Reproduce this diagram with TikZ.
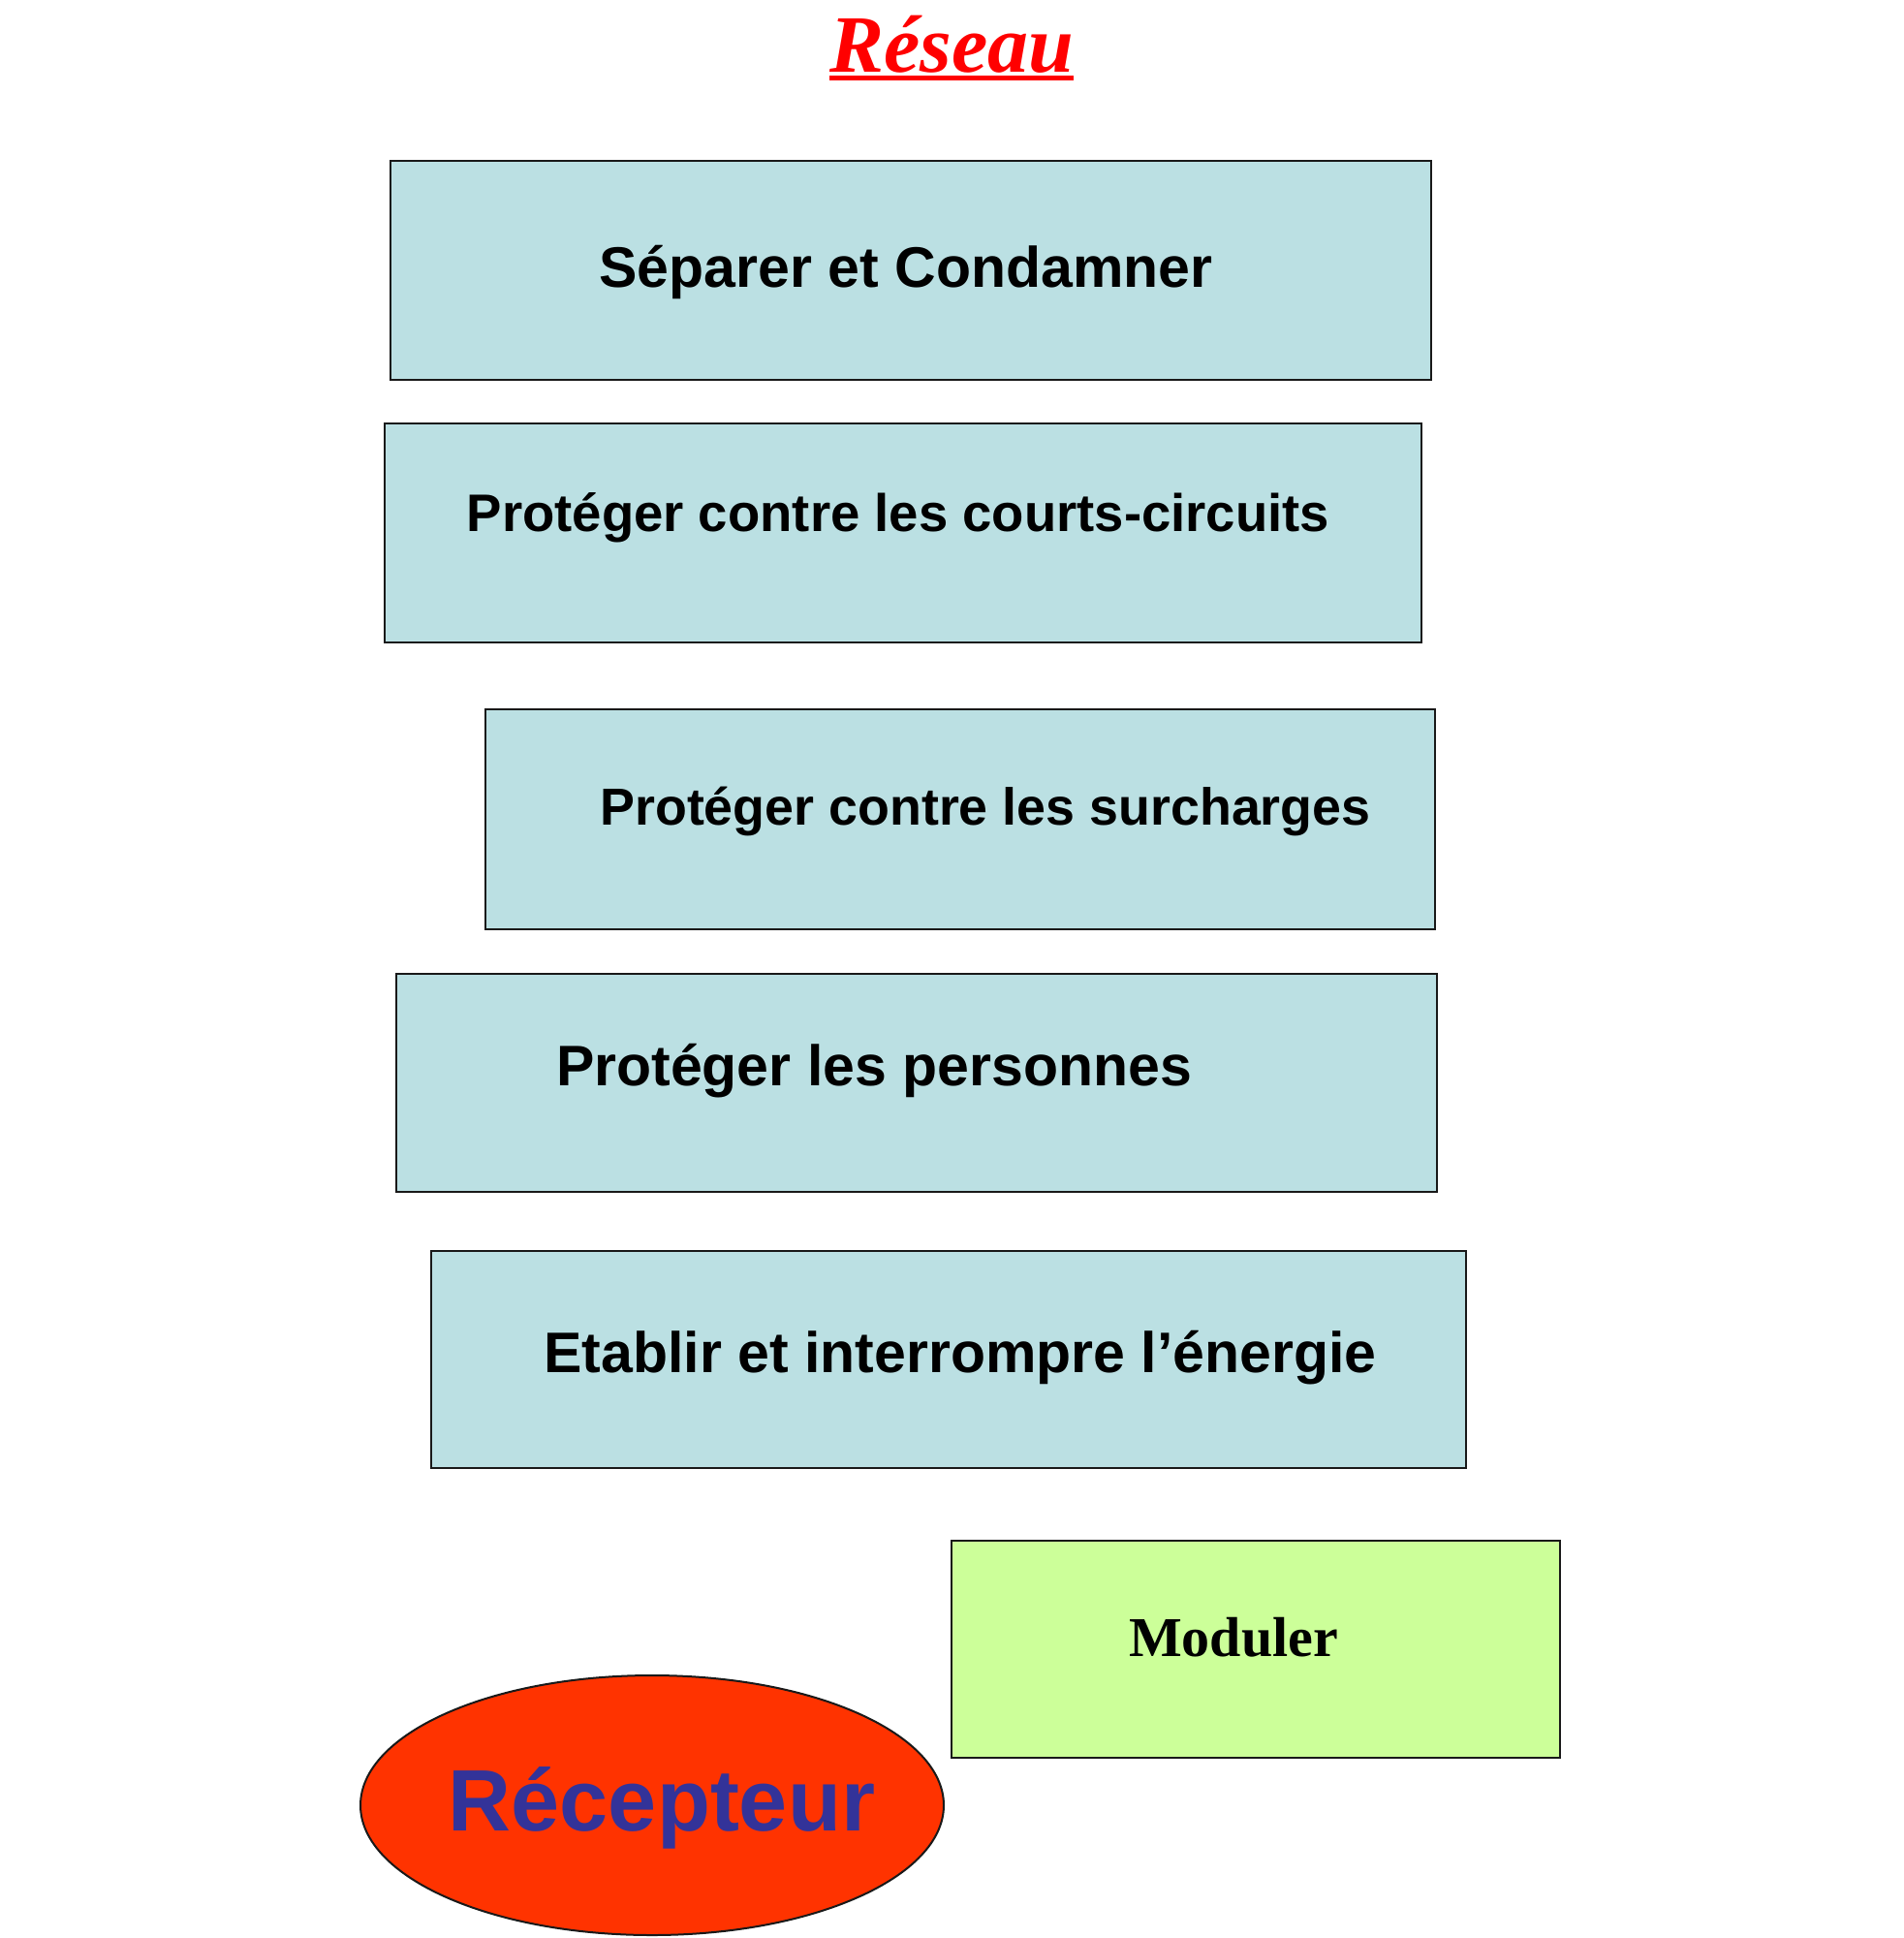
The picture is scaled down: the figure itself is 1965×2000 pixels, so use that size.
\documentclass[tikz,border=0pt]{standalone}
\usepackage{fontspec}
\setmainfont{Liberation Sans}
\newfontfamily\serifbf{Liberation Serif}
\usetikzlibrary{shapes.geometric}
\definecolor{boxblue}{RGB}{187,224,227}
\definecolor{boxgreen}{RGB}{204,255,153}
\definecolor{recred}{RGB}{255,51,0}
\definecolor{recblue}{RGB}{51,51,153}
\definecolor{titlered}{RGB}{255,0,0}
\tikzset{
  fbox/.style={draw=black!90, line width=2.8pt, fill=boxblue, inner sep=0pt},
  modbox/.style={draw=black!90, line width=2.8pt, fill=boxgreen, inner sep=0pt},
  btext/.style={anchor=base, inner sep=0pt, font=\bfseries\fontsize{59}{70}\selectfont},
}
\begin{document}
\begin{tikzpicture}[x=1pt,y=-1pt]
\useasboundingbox[fill=white] (0,0) rectangle (1965,2000);
% title
\node[anchor=base, inner sep=0pt, text=titlered, font=\serifbf\bfseries\itshape\fontsize{84}{96}\selectfont] (title) at (982,74) {Réseau};
\draw[titlered, line width=5pt] ([yshift=-6.5pt]title.base west) -- ([yshift=-6.5pt]title.base east);
% boxes
\node[fbox, minimum width=1074pt, minimum height=226pt] (b1) at (940,279) {};
\node[btext] (t1) at (935,296) {Séparer et Condamner};
\node[fbox, minimum width=1070pt, minimum height=226pt] (b2) at (932,550) {};
\node[btext, font=\bfseries\fontsize{54.5}{66}\selectfont] (t2) at (927,548) {Protéger contre les courts-circuits};
\node[fbox, minimum width=980pt, minimum height=227pt] (b3) at (991,845.5) {};
\node[btext, font=\bfseries\fontsize{53.8}{66}\selectfont] (t3) at (1017,851) {Protéger contre les surcharges};
\node[fbox, minimum width=1074pt, minimum height=225pt] (b4) at (946,1117.5) {};
\node[btext] (t4) at (902,1120) {Protéger les personnes};
\node[fbox, minimum width=1068pt, minimum height=224pt] (b5) at (979,1403) {};
\node[btext] (t5) at (991,1416) {Etablir et interrompre l’énergie};
% moduler
\node[modbox, minimum width=628pt, minimum height=224pt] (mod) at (1296,1702) {};
\node[anchor=base, inner sep=0pt, font=\serifbf\bfseries\fontsize{58}{68}\selectfont] (tmod) at (1273,1709) {Moduler};
% recepteur
\node[ellipse, draw=black!90, line width=2pt, fill=recred, minimum width=602pt, minimum height=268pt, inner sep=0pt] (rec) at (673,1863) {};
\node[anchor=base, inner sep=0pt, text=recblue, font=\bfseries\fontsize{90}{100}\selectfont] (trec) at (683,1889) {Récepteur};
\end{tikzpicture}
\end{document}
